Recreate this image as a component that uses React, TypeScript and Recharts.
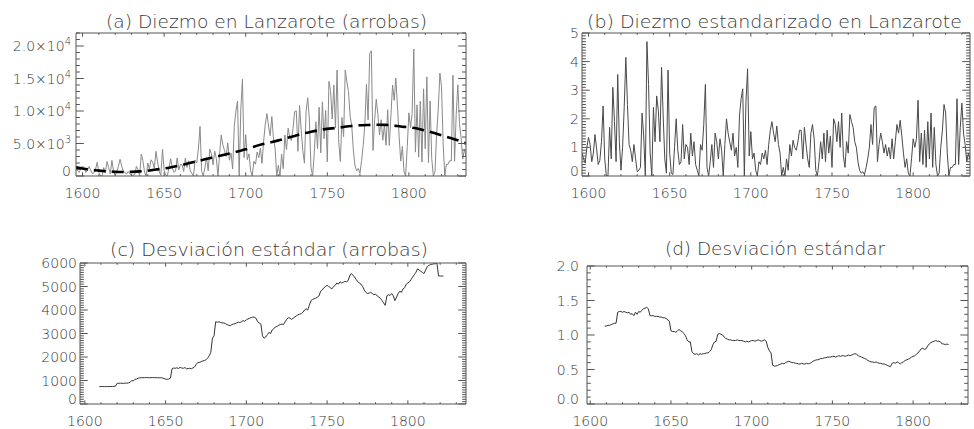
import React from 'react';
import { LineChart, Line, XAxis, YAxis } from 'recharts';

// ---------------- data ----------------
const DIEZMO_START = 1596; // first year of panels (a) and (b)

// (a) Diezmo en Lanzarote (arrobas), one value per year 1596-1835
const diezmoArrobas = [
  1060, 770, 560, 1200,
  1550, 1220, 540, 820, 1450, 910, 370, 500, 1060, 2110,
  500, 0, 0, 1290, 440, 2230, 1330, 345, 2400, 790,
  130, 635, 1500, 2570, 1540, 670, 550, 310, 680, 380,
  100, 130, 200, 1500, 980, 0, 3380, 2370, 620, 0,
  1990, 1030, 2490, 2120, 1150, 3800, 2160, 640, 110, 4140,
  920, 120, 60, 1280, 2660, 1240, 570, 740, 2770, 950,
  1800, 1700, 700, 2730, 1320, 2340, 800, 410, 0, 2420,
  2030, 4180, 7620, 730, 0, 1280, 2880, 810, 4130, 3380,
  1730, 3820, 2690, 0, 3410, 6300, 4820, 3920, 3000, 5090,
  2420, 3510, 1070, 7640, 10000, 11530, 0, 10170, 14890, 2830,
  6360, 2510, 3410, 870, 0, 2250, 1820, 3700, 2810, 4270,
  1950, 5420, 7980, 9600, 7670, 6200, 9150, 5820, 4280, 0,
  1640, 0, 3360, 1130, 6310, 4060, 7350, 5960, 5440, 7340,
  9920, 10020, 3800, 10860, 7100, 3910, 1970, 9950, 12040, 8760,
  1360, 0, 3450, 8340, 4200, 10580, 3550, 11410, 5740, 10090,
  2180, 14560, 13140, 8780, 13970, 7380, 16300, 5210, 2240, 9000,
  6040, 16300, 14460, 12990, 9200, 7700, 3860, 1550, 780, 1170,
  390, 2340, 4690, 7830, 14110, 8640, 18850, 19260, 3930, 8660,
  11820, 9460, 6300, 8660, 5510, 7870, 4720, 10190, 4690, 9360,
  14000, 11630, 15050, 10750, 6120, 2290, 4550, 760, 0, 4510,
  9720, 7440, 9630, 19530, 3670, 10950, 2900, 11490, 2140, 13410,
  4200, 15250, 2060, 11540, 2690, 0, 660, 6490, 10260, 15830,
  13750, 4940, 0, 1810, 1790, 2360, 2330, 15500, 2260, 9490,
  14030, 8100, 5830, 2600, 4080, 3000,
];

// (a) dashed long-term trend (arrobas)
const trendYears = [
  1596, 1600, 1605, 1610, 1615, 1620, 1625, 1630, 1635, 1640, 1645, 1650, 1655, 1660, 1665, 1670,
  1675, 1680, 1685, 1690, 1695, 1700, 1705, 1710, 1715, 1720, 1725, 1730, 1735, 1740, 1745, 1750,
  1755, 1760, 1765, 1770, 1775, 1780, 1785, 1790, 1795, 1800, 1805, 1810, 1815, 1820, 1825, 1830, 1835,
];
const trendArrobas = [
  1330, 1150, 960, 830, 720, 640, 610, 640, 710, 830, 1000, 1150, 1380, 1640, 1950, 2260,
  2560, 2880, 3150, 3450, 3780, 4100, 4500, 4870, 5170, 5480, 5830, 6170, 6520, 6800, 7050, 7250,
  7380, 7550, 7700, 7800, 7850, 7880, 7870, 7780, 7620, 7480, 7300, 7000, 6650, 6250, 5900, 5500, 5000,
];

// (b) Diezmo estandarizado, one value per year 1596-1835
const diezmoStandardized = [
  0.8, 0.6, 0.45, 1.0,
  1.35, 1.1, 0.5, 0.8, 1.45, 0.95, 0.4, 0.55, 1.2, 2.45,
  0.6, 0.0, 0.0, 1.7, 0.6, 3.1, 1.9, 0.5, 3.55, 1.2,
  0.2, 1.0, 2.4, 4.15, 2.5, 1.1, 0.9, 0.5, 1.1, 0.6,
  0.15, 0.2, 0.3, 2.2, 1.4, 0.0, 4.7, 3.2, 0.8, 0.0,
  2.4, 1.2, 2.8, 2.3, 1.2, 3.8, 2.1, 0.6, 0.1, 3.7,
  0.8, 0.1, 0.05, 1.0, 2.0, 0.9, 0.4, 0.5, 1.8, 0.6,
  1.1, 1.0, 0.4, 1.5, 0.7, 1.2, 0.4, 0.2, 0.0, 1.1,
  0.9, 1.8, 3.2, 0.3, 0.0, 0.5, 1.1, 0.3, 1.5, 1.2,
  0.6, 1.3, 0.9, 0.0, 1.1, 2.0, 1.5, 1.2, 0.9, 1.5,
  0.7, 1.0, 0.3, 2.1, 2.7, 3.05, 0.0, 2.6, 3.75, 0.7,
  1.55, 0.6, 0.8, 0.2, 0.0, 0.5, 0.4, 0.8, 0.6, 0.9,
  0.4, 1.1, 1.6, 1.9, 1.5, 1.2, 1.75, 1.1, 0.8, 0.0,
  0.3, 0.0, 0.6, 0.2, 1.1, 0.7, 1.25, 1.0, 0.9, 1.2,
  1.6, 1.6, 0.6, 1.7, 1.1, 0.6, 0.3, 1.5, 1.8, 1.3,
  0.2, 0.0, 0.5, 1.2, 0.6, 1.5, 0.5, 1.6, 0.8, 1.4,
  0.3, 2.0, 1.8, 1.2, 1.9, 1.0, 2.2, 0.7, 0.3, 1.2,
  0.8, 2.15, 1.9, 1.7, 1.2, 1.0, 0.5, 0.2, 0.1, 0.15,
  0.05, 0.3, 0.6, 1.0, 1.8, 1.1, 2.4, 2.45, 0.5, 1.1,
  1.5, 1.2, 0.8, 1.1, 0.7, 1.0, 0.6, 1.3, 0.6, 1.2,
  1.8, 1.5, 1.95, 1.4, 0.8, 0.3, 0.6, 0.1, 0.0, 0.6,
  1.3, 1.0, 1.3, 2.65, 0.5, 1.5, 0.4, 1.6, 0.3, 1.9,
  0.6, 2.2, 0.3, 1.7, 0.4, 0.0, 0.1, 1.0, 1.6, 2.5,
  2.2, 0.8, 0.0, 0.3, 0.3, 0.4, 0.4, 2.7, 0.4, 1.7,
  2.55, 1.5, 1.1, 0.5, 0.8, 0.6,
];

const STD_START = 1609; // first year of panels (c) and (d)

// (c) Desviación estándar (arrobas), 1609-1822
const stdArrobas = [
  740,
  740, 745, 740, 740, 745, 740, 745, 745, 750, 760,
  880, 880, 885, 880, 880, 890, 885, 900, 920, 1000,
  980, 1050, 1060, 1100, 1110, 1120, 1120, 1120, 1125, 1120,
  1120, 1120, 1125, 1120, 1120, 1120, 1115, 1120, 1110, 1080,
  1060, 1050, 1060, 1100, 1500, 1530, 1520, 1540, 1510, 1560,
  1530, 1520, 1550, 1500, 1510, 1520, 1500, 1540, 1580, 1700,
  1760, 1770, 1800, 1830, 1850, 1880, 1950, 2050, 2200, 2800,
  2900, 3500, 3480, 3500, 3470, 3450, 3450, 3420, 3380, 3350,
  3330, 3380, 3400, 3420, 3450, 3480, 3470, 3500, 3550, 3520,
  3580, 3620, 3650, 3680, 3700, 3690, 3650, 3500, 3450, 3400,
  2900, 2800, 2850, 2950, 3050, 3000, 3150, 3200, 3280, 3300,
  3350, 3380, 3400, 3380, 3500, 3600, 3680, 3650, 3600, 3650,
  3700, 3750, 3800, 3820, 3850, 3900, 4000, 4050, 4000, 4200,
  4400, 4450, 4480, 4500, 4550, 4600, 4800, 4850, 4950, 5000,
  5050, 5000, 4950, 4900, 5000, 5050, 5150, 5100, 5200, 5150,
  5180, 5220, 5200, 5250, 5450, 5550, 5480, 5400, 5300, 5200,
  5150, 5100, 5000, 4850, 4750, 4700, 4720, 4750, 4700, 4650,
  4680, 4600, 4550, 4500, 4400, 4300, 4200, 4600, 4650, 4620,
  4700, 4600, 4400, 4550, 4700, 4800, 4750, 4900, 4950, 5100,
  5150, 5200, 5300, 5400, 5500, 5600, 5750, 5700, 5650, 5600,
  5550, 5700, 5850, 5900, 5930, 5950, 5960, 5970, 5990, 5450,
  5450, 5440, 5450,
];

// (d) Desviación estándar (standardized), 1609-1822
const stdStandardized = [
  1.13,
  1.13, 1.14, 1.14, 1.15, 1.16, 1.17, 1.17, 1.33, 1.34, 1.34,
  1.33, 1.34, 1.33, 1.32, 1.33, 1.30, 1.31, 1.28, 1.33, 1.30,
  1.34, 1.33, 1.36, 1.38, 1.39, 1.40, 1.38, 1.28, 1.28, 1.28,
  1.27, 1.27, 1.27, 1.26, 1.26, 1.25, 1.25, 1.24, 1.22, 1.20,
  1.06, 1.05, 1.05, 1.04, 1.06, 1.08, 1.06, 1.05, 1.02, 0.99,
  0.93, 0.90, 0.90, 0.76, 0.73, 0.72, 0.73, 0.71, 0.73, 0.72,
  0.73, 0.73, 0.74, 0.74, 0.76, 0.79, 0.86, 0.90, 0.91, 1.01,
  1.02, 1.01, 1.00, 0.97, 0.95, 0.94, 0.93, 0.93, 0.92, 0.92,
  0.92, 0.93, 0.92, 0.92, 0.92, 0.91, 0.90, 0.91, 0.90, 0.91,
  0.92, 0.92, 0.91, 0.92, 0.93, 0.92, 0.91, 0.92, 0.93, 0.91,
  0.82, 0.77, 0.74, 0.56, 0.55, 0.55, 0.56, 0.57, 0.58, 0.59,
  0.58, 0.60, 0.61, 0.62, 0.61, 0.60, 0.60, 0.59, 0.59, 0.58,
  0.58, 0.59, 0.58, 0.58, 0.59, 0.58, 0.59, 0.60, 0.62, 0.63,
  0.64, 0.64, 0.65, 0.66, 0.66, 0.67, 0.67, 0.68, 0.68, 0.68,
  0.69, 0.69, 0.68, 0.69, 0.70, 0.69, 0.70, 0.70, 0.69, 0.70,
  0.71, 0.70, 0.71, 0.72, 0.73, 0.72, 0.70, 0.69, 0.68, 0.67,
  0.66, 0.65, 0.63, 0.62, 0.61, 0.61, 0.60, 0.61, 0.60, 0.59,
  0.59, 0.58, 0.58, 0.57, 0.56, 0.55, 0.54, 0.59, 0.60, 0.59,
  0.61, 0.60, 0.58, 0.60, 0.61, 0.63, 0.64, 0.65, 0.66, 0.68,
  0.69, 0.70, 0.72, 0.74, 0.77, 0.80, 0.81, 0.79, 0.80, 0.84,
  0.87, 0.89, 0.90, 0.91, 0.92, 0.91, 0.91, 0.90, 0.87, 0.87,
  0.86, 0.87, 0.86,
];

// ticks and labels
const xMajorTicks = [1600, 1650, 1700, 1750, 1800];
const xMajorLabels = ['1600', '1650', '1700', '1750', '1800'];
const xMinorStep = 10;

const yMajorA = [0, 5000, 10000, 15000, 20000];
const yLabelsA = ['0', '5.0×10^3', '1.0×10^4', '1.5×10^4', '2.0×10^4'];
const yMajorB = [0, 1, 2, 3, 4, 5];
const yLabelsB = ['0', '1', '2', '3', '4', '5'];
const yMajorC = [0, 1000, 2000, 3000, 4000, 5000, 6000];
const yLabelsC = ['0', '1000', '2000', '3000', '4000', '5000', '6000'];
const yMajorD = [0, 0.5, 1.0, 1.5, 2.0];
const yLabelsD = ['0.0', '0.5', '1.0', '1.5', '2.0'];

const titles = [
  '(a) Diezmo en Lanzarote (arrobas)',
  '(b) Diezmo estandarizado en Lanzarote',
  '(c) Desviación estándar (arrobas)',
  '(d) Desviación estándar',
];

// ---------------- tables ----------------
const rowsA = diezmoArrobas.map((v, i) => ({ year: DIEZMO_START + i, v }));
const rowsTrend = trendArrobas.map((v, i) => ({ year: trendYears[i], v }));
const rowsB = diezmoStandardized.map((v, i) => ({ year: DIEZMO_START + i, v }));
const rowsC = stdArrobas.map((v, i) => ({ year: STD_START + i, v }));
const rowsD = stdStandardized.map((v, i) => ({ year: STD_START + i, v }));

// ---------------- styling ----------------
const FONT = '"DejaVu Sans", "Liberation Sans", sans-serif';
const WEIGHT = 200;
const INK = '#555555';
const TEXT = '#3a3a3a';
const TICK_FONT = 14;

const range = (a: number, b: number, step: number) => {
  const out: number[] = [];
  const n = Math.round((b - a) / step);
  for (let i = 0; i <= n; i++) out.push(+(a + i * step).toFixed(6));
  return out;
};
const isIn = (list: number[], v: number) => list.findIndex((m) => Math.abs(m - v) < 1e-6);

const renderLabel = (s: string) => {
  const parts = s.split('^');
  if (parts.length === 1) return s;
  return [
    <tspan key="m">{parts[0]}</tspan>,
    <tspan key="e" dy={-6} fontSize={10}>{parts[1]}</tspan>,
  ];
};

type PanelProps = {
  chart: { x: number; y: number; w: number; h: number };
  box: { l: number; r: number; t: number; b: number };
  xDomain: [number, number];
  yDomain: [number, number];
  yMajor: number[];
  yLabels: string[];
  yMinorStep: number;
  labelEnd: number;
  lines: React.ReactNode[];
};

function Panel({ chart, box, xDomain, yDomain, yMajor, yLabels, yMinorStep, labelEnd, lines }: PanelProps) {
  const xTicks = range(1600, Math.floor(xDomain[1] / 10) * 10, xMinorStep);
  const yTicks = range(yDomain[0], yDomain[1], yMinorStep);
  const plotW = box.r - box.l;
  const plotH = box.b - box.t;
  const xMaj = 0.026 * plotH;
  const xMin = xMaj / 2;
  const yMaj = 0.02 * plotW;
  const yMin = yMaj / 2;
  const leftW = box.l - chart.x;
  const bottomH = chart.y + chart.h - box.b;

  const bottomTick = (p: any) => {
    const v = p.payload.value;
    const k = isIn(xMajorTicks, v);
    return (
      <g>
        <line x1={p.x} x2={p.x} y1={p.y} y2={p.y - (k >= 0 ? xMaj : xMin)} stroke={INK} strokeWidth={1} />
        {k >= 0 && (
          <text x={p.x} y={p.y + 21.5} textAnchor="middle" fontFamily={FONT} fontWeight={WEIGHT} fontSize={TICK_FONT} fill={TEXT}>
            {xMajorLabels[k]}
          </text>
        )}
      </g>
    );
  };
  const topTick = (p: any) => {
    const k = isIn(xMajorTicks, p.payload.value);
    return <line x1={p.x} x2={p.x} y1={p.y} y2={p.y + (k >= 0 ? xMaj : xMin)} stroke={INK} strokeWidth={1} />;
  };
  const leftTick = (p: any) => {
    const v = p.payload.value;
    const k = isIn(yMajor, v);
    const raise = Math.abs(v - yDomain[0]) < 1e-9 ? -5 : 0;
    return (
      <g>
        <line x1={p.x} x2={p.x + (k >= 0 ? yMaj : yMin)} y1={p.y} y2={p.y} stroke={INK} strokeWidth={1} />
        {k >= 0 && (
          <text x={p.x - (box.l - labelEnd)} y={p.y + raise} dy="0.36em" textAnchor="end" fontFamily={FONT} fontWeight={WEIGHT} fontSize={TICK_FONT} fill={TEXT}>
            {renderLabel(yLabels[k])}
          </text>
        )}
      </g>
    );
  };
  const rightTick = (p: any) => {
    const k = isIn(yMajor, p.payload.value);
    return <line x1={p.x} x2={p.x - (k >= 0 ? yMaj : yMin)} y1={p.y} y2={p.y} stroke={INK} strokeWidth={1} />;
  };

  return (
    <div style={{ position: 'absolute', left: chart.x, top: chart.y, width: chart.w, height: chart.h }}>
      <LineChart
        width={chart.w}
        height={chart.h}
        margin={{ top: box.t - chart.y - 1, right: chart.x + chart.w - box.r - 1, bottom: 0, left: 0 }}
      >
        <XAxis
          xAxisId="bottom"
          dataKey="year"
          type="number"
          domain={xDomain}
          allowDataOverflow
          ticks={xTicks}
          interval={0}
          height={bottomH}
          tickSize={0}
          tickMargin={0}
          tickLine={false}
          axisLine={{ stroke: INK, strokeWidth: 1 }}
          tick={bottomTick}
        />
        <XAxis
          xAxisId="top"
          orientation="top"
          dataKey="year"
          type="number"
          domain={xDomain}
          allowDataOverflow
          ticks={xTicks}
          interval={0}
          height={1}
          tickSize={0}
          tickMargin={0}
          tickLine={false}
          axisLine={{ stroke: INK, strokeWidth: 1 }}
          tick={topTick}
        />
        <YAxis
          yAxisId="left"
          type="number"
          domain={yDomain}
          allowDataOverflow
          ticks={yTicks}
          interval={0}
          width={leftW}
          tickSize={0}
          tickMargin={0}
          tickLine={false}
          axisLine={{ stroke: INK, strokeWidth: 1 }}
          tick={leftTick}
        />
        <YAxis
          yAxisId="right"
          orientation="right"
          type="number"
          domain={yDomain}
          allowDataOverflow
          ticks={yTicks}
          interval={0}
          width={1}
          tickSize={0}
          tickMargin={0}
          tickLine={false}
          axisLine={{ stroke: INK, strokeWidth: 1 }}
          tick={rightTick}
        />
        {lines}
      </LineChart>
    </div>
  );
}

const lineProps = {
  xAxisId: 'bottom',
  yAxisId: 'left',
  dataKey: 'v',
  dot: false,
  activeDot: false,
  isAnimationActive: false,
};

export default function App() {
  return (
    <div style={{ position: 'absolute', left: 0, top: 0, width: 974, height: 429, background: '#ffffff', overflow: 'hidden' }}>
      <Panel
        chart={{ x: 0, y: 0, w: 487, h: 215 }}
        box={{ l: 76, r: 466, t: 33, b: 176 }}
        xDomain={[1596, 1835]}
        yDomain={[0, 22000]}
        yMajor={yMajorA}
        yLabels={yLabelsA}
        yMinorStep={1000}
        labelEnd={71}
        lines={[
          <Line key="a" {...lineProps} data={rowsA} type="linear" stroke="#8a8a8a" strokeWidth={1} />,
          <Line key="t" {...lineProps} data={rowsTrend} type="monotone" stroke="#000000" strokeWidth={2.6} strokeDasharray="12 6" />,
        ]}
      />
      <Panel
        chart={{ x: 487, y: 0, w: 487, h: 215 }}
        box={{ l: 582, r: 970, t: 33, b: 176 }}
        xDomain={[1596, 1835]}
        yDomain={[0, 5]}
        yMajor={yMajorB}
        yLabels={yLabelsB}
        yMinorStep={0.1}
        labelEnd={579}
        lines={[<Line key="b" {...lineProps} data={rowsB} type="linear" stroke="#4a4a4a" strokeWidth={1} />]}
      />
      <Panel
        chart={{ x: 0, y: 215, w: 487, h: 214 }}
        box={{ l: 80, r: 466, t: 263, b: 404 }}
        xDomain={[1597, 1836]}
        yDomain={[0, 6000]}
        yMajor={yMajorC}
        yLabels={yLabelsC}
        yMinorStep={100}
        labelEnd={77}
        lines={[<Line key="c" {...lineProps} data={rowsC} type="linear" stroke="#333333" strokeWidth={1} />]}
      />
      <Panel
        chart={{ x: 487, y: 215, w: 487, h: 214 }}
        box={{ l: 587, r: 968, t: 266, b: 404 }}
        xDomain={[1598, 1834]}
        yDomain={[0, 2]}
        yMajor={yMajorD}
        yLabels={yLabelsD}
        yMinorStep={0.1}
        labelEnd={579}
        lines={[<Line key="d" {...lineProps} data={rowsD} type="linear" stroke="#333333" strokeWidth={1} />]}
      />
      <svg width={974} height={429} style={{ position: 'absolute', left: 0, top: 0, pointerEvents: 'none' }}>
        <text x={266.5} y={28} textAnchor="middle" fontFamily={FONT} fontWeight={WEIGHT} fontSize={18} fill={TEXT} textLength={321} lengthAdjust="spacingAndGlyphs">
          {titles[0]}
        </text>
        <text x={774.5} y={28} textAnchor="middle" fontFamily={FONT} fontWeight={WEIGHT} fontSize={18} fill={TEXT} textLength={375} lengthAdjust="spacingAndGlyphs">
          {titles[1]}
        </text>
        <text x={269} y={256} textAnchor="middle" fontFamily={FONT} fontWeight={WEIGHT} fontSize={18} fill={TEXT} textLength={318} lengthAdjust="spacingAndGlyphs">
          {titles[2]}
        </text>
        <text x={775} y={255} textAnchor="middle" fontFamily={FONT} fontWeight={WEIGHT} fontSize={18} fill={TEXT} textLength={220} lengthAdjust="spacingAndGlyphs">
          {titles[3]}
        </text>
      </svg>
    </div>
  );
}
